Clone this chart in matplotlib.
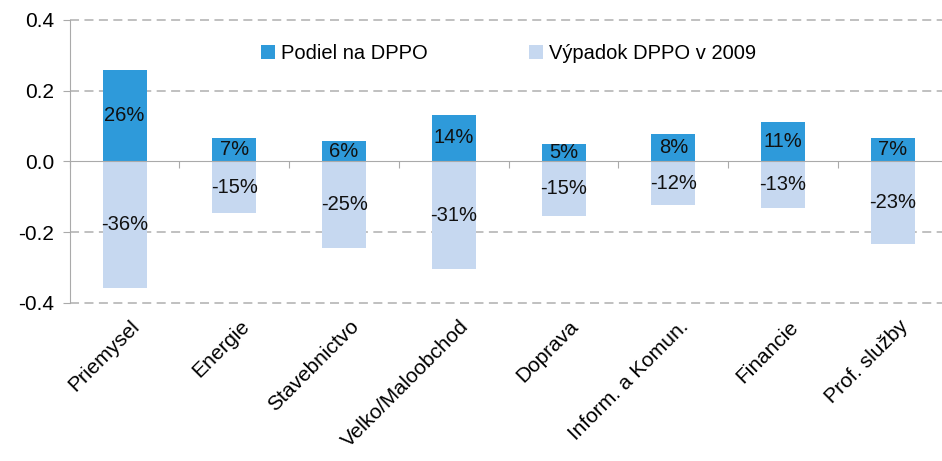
#!/usr/bin/env python3
"""
Podiel sektorov na DPPO a vypadok DPPO v 2009
"""

import matplotlib

matplotlib.use("Agg")
import matplotlib.pyplot as plt
import matplotlib.transforms as mtransforms
import numpy as np

categories = [
    "Priemysel",
    "Energie",
    "Stavebnictvo",
    "Velko/Maloobchod",
    "Doprava",
    "Inform. a Komun.",
    "Financie",
    "Prof. služby",
]
podiel = [0.257, 0.066, 0.057, 0.132, 0.049, 0.077, 0.111, 0.066]
vypadok = [-0.357, -0.146, -0.245, -0.304, -0.154, -0.123, -0.132, -0.234]
podiel_labels = ["26%", "7%", "6%", "14%", "5%", "8%", "11%", "7%"]
vypadok_labels = ["-36%", "-15%", "-25%", "-31%", "-15%", "-12%", "-13%", "-23%"]


def main():
    plt.rcParams["font.family"] = ["Liberation Sans", "DejaVu Sans"]
    plt.rcParams["axes.unicode_minus"] = False

    fig = plt.figure(figsize=(9.42, 4.61), dpi=100)
    ax = fig.add_axes([0.074, 0.343, 0.932, 0.614])

    x = np.arange(len(categories))
    dark = "#2E9ADA"
    light = "#C6D8F0"

    b1 = ax.bar(x, podiel, width=0.4, color=dark, label="Podiel na DPPO", zorder=3)
    b2 = ax.bar(x, vypadok, width=0.4, color=light, label="Výpadok DPPO v 2009", zorder=3)

    for i in range(len(categories)):
        ax.text(x[i], podiel[i] / 2, podiel_labels[i], ha="center", va="center",
                fontsize=14.5, color="#111111", zorder=4)
        ax.text(x[i], vypadok[i] / 2, vypadok_labels[i], ha="center", va="center",
                fontsize=14.5, color="#111111", zorder=4)

    ax.set_xlim(-0.5, len(categories) - 0.5)
    ax.set_ylim(-0.4, 0.4)
    ax.set_yticks([-0.4, -0.2, 0.0, 0.2, 0.4])
    ax.set_yticklabels([f"{v:.1f}" for v in [-0.4, -0.2, 0.0, 0.2, 0.4]], fontsize=15)

    for v in [-0.4, -0.2, 0.2, 0.4]:
        ax.axhline(v, color="#BBBBBB", linestyle=(0, (5, 3)), linewidth=1.3,
                   zorder=1, clip_on=False)

    for side in ["top", "right"]:
        ax.spines[side].set_visible(False)
    ax.spines["left"].set_color("#AAAAAA")
    ax.spines["bottom"].set_color("#AAAAAA")
    ax.spines["bottom"].set_position(("data", 0))
    ax.spines["bottom"].set_zorder(5)

    ax.set_xticks(np.arange(len(categories) + 1) - 0.5)
    ax.set_xticklabels([])
    ax.tick_params(axis="x", direction="out", length=5, color="#AAAAAA")
    ax.tick_params(axis="y", direction="out", length=5, color="#AAAAAA", pad=6)

    trans = mtransforms.blended_transform_factory(ax.transData, ax.transAxes)
    for i, name in enumerate(categories):
        ax.text(x[i] + 0.05, -0.05, name, transform=trans, rotation=45,
                rotation_mode="anchor", ha="right", va="top", fontsize=15)

    ax.legend(handles=[b1, b2], loc="upper center", bbox_to_anchor=(0.50, 0.98),
              ncol=2, frameon=False, fontsize=14.5, handlelength=0.7, handleheight=0.7,
              handletextpad=0.3, columnspacing=5.0)

    plt.savefig("out.png", dpi=100)


if __name__ == "__main__":
    main()
